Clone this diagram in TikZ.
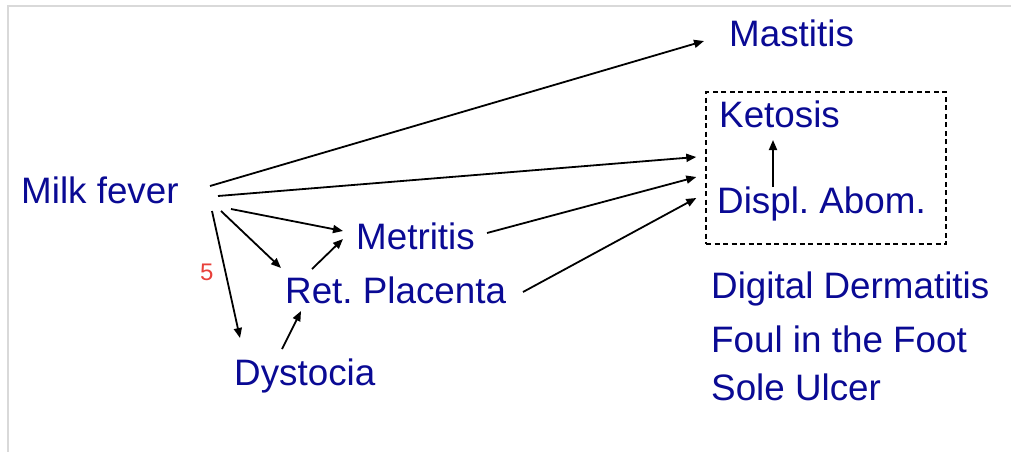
\documentclass[tikz,border=0pt]{standalone}
\usepackage{fontspec}
\setmainfont{Liberation Sans}
\usetikzlibrary{arrows.meta,calc}
\definecolor{txtblue}{RGB}{10,10,148}
\definecolor{numred}{RGB}{232,64,58}
\definecolor{frame}{RGB}{217,217,217}
\frenchspacing
\begin{document}
\begin{tikzpicture}[x=1pt,y=-1pt,
  lbl/.style={anchor=base west,inner sep=0pt,text=txtblue,font=\fontsize{36.8}{44}\selectfont},
  conn/.style={line width=1.8pt,-{Triangle[length=10pt,width=8pt]}},
  grpbox/.style={draw,dashed,line width=1.4pt,dash pattern=on 5pt off 3.5pt,minimum width=240pt,minimum height=152pt,inner sep=0pt}]
\useasboundingbox (0,0) rectangle (1011,452);
\draw[frame,line width=2.5pt] (8,452) -- (8,6) -- (1011,6);
% nodes
\node[lbl] (mf) at (21,203) {Milk fever};
\node[lbl] (mast) at (729,47) {Mastitis};
\node[grpbox] (grp) at (826,168) {};
\node[lbl] (ket) at (719,127) {Ketosis};
\node[lbl] (disp) at (717,213) {Displ. Abom.};
\node[lbl] (met) at (356,249) {Metritis};
\node[lbl] (ret) at (285,303) {Ret. Placenta};
\node[lbl] (dys) at (234,385) {Dystocia};
\node[lbl] (dd) at (711,298) {Digital Dermatitis};
\node[lbl] (fif) at (711,352) {Foul in the Foot};
\node[lbl] (su) at (711,400) {Sole Ulcer};
\node[anchor=base west,inner sep=0pt,text=numred,font=\fontsize{24}{28}\selectfont] (five) at (200,280) {5};
% connectors
\draw[conn] ($(mf.base west)+(189,-17)$) -- ($(mast.base west)+(-25,-6)$);
\draw[conn] ($(mf.base west)+(197,-7)$) -- ($(grp.west)+(-9,-11)$);
\draw[conn] ($(mf.base west)+(210,6)$) -- ($(met.base west)+(-13,-18)$);
\draw[conn] ($(mf.base west)+(200,8)$) -- ($(ret.base west)+(-4,-35)$);
\draw[conn] ($(mf.base west)+(191,8)$) -- ($(dys.base west)+(6,-47)$);
\draw[conn] ($(ret.base west)+(27,-34)$) -- ($(met.base west)+(-13,-10)$);
\draw[conn] ($(dys.base west)+(48,-36)$) -- ($(ret.base west)+(16,8)$);
\draw[conn] ($(met.base west)+(131,-16)$) -- ($(grp.west)+(-9,9)$);
\draw[conn] ($(ret.base west)+(238,-11)$) -- ($(grp.west)+(-9,30)$);
\draw[conn] ($(disp.base west)+(56,-26)$) -- ($(ket.base west)+(54,13)$);
\end{tikzpicture}
\end{document}
